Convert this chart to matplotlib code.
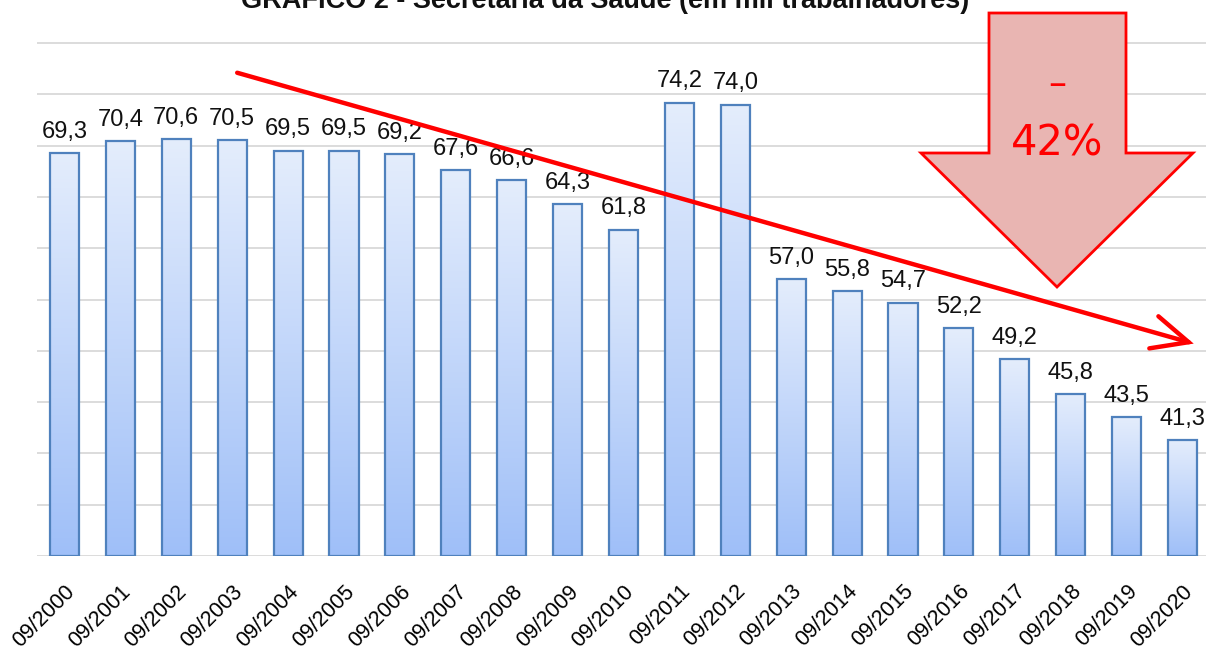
import numpy as np
import matplotlib
matplotlib.use('Agg')
import matplotlib.pyplot as plt
from matplotlib.patches import Polygon, FancyArrowPatch
from matplotlib.transforms import Affine2D
from matplotlib.colors import LinearSegmentedColormap

periodos = ['09/2000', '09/2001', '09/2002', '09/2003', '09/2004', '09/2005',
            '09/2006', '09/2007', '09/2008', '09/2009', '09/2010', '09/2011',
            '09/2012', '09/2013', '09/2014', '09/2015', '09/2016', '09/2017',
            '09/2018', '09/2019', '09/2020']
trabalhadores = [69.3, 70.4, 70.6, 70.5, 69.5, 69.5, 69.2, 67.6, 66.6, 64.3, 61.8,
                 74.2, 74.0, 57.0, 55.8, 54.7, 52.2, 49.2, 45.8, 43.5, 41.3]
rotulos = [f'{v:.1f}'.replace('.', ',') for v in trabalhadores]

plt.rcParams['font.family'] = ['Liberation Sans', 'DejaVu Sans']

W, H = 1206, 653
fig = plt.figure(figsize=(W / 100, H / 100), dpi=100)
ax = fig.add_axes([36.5 / W, 1 - 556 / H, (1210.5 - 36.5) / W, (556 - 20) / H])

x = np.arange(len(trabalhadores))
ax.set_xlim(-0.5, len(trabalhadores) - 0.5)
ax.set_ylim(30, 30 + (556 - 20) / 10.26)

for g in range(30, 85, 5):
    ax.axhline(g, color='#d9d9d9', lw=1.3, zorder=0)

grad = LinearSegmentedColormap.from_list('azul', ['#9fbff8', '#e4edfc'])
largura = 0.52
barras = ax.bar(x, np.array(trabalhadores) - 30, bottom=30, width=largura,
                facecolor='none', edgecolor='#4f81bd', lw=1.6, zorder=3)
for b in barras:
    x0, y0 = b.get_x(), b.get_y()
    w, h = b.get_width(), b.get_height()
    img = ax.imshow(np.linspace(0, 1, 256).reshape(-1, 1), cmap=grad,
                    extent=[x0, x0 + w, y0, y0 + h], origin='lower',
                    aspect='auto', zorder=2)
    img.set_clip_path(b)

for xi, v, r in zip(x, trabalhadores, rotulos):
    ax.annotate(r, (xi, v), xytext=(0, 11), textcoords='offset points',
                ha='center', va='baseline', fontsize=17, color='#111111', zorder=4)

ax.set_xticks(x)
ax.set_xticklabels(periodos, rotation=45, ha='right', va='top',
                   rotation_mode='anchor', fontsize=15.5)
ax.tick_params(axis='x', length=0, pad=18)
ax.tick_params(axis='y', left=False, labelleft=False)
for s in ax.spines.values():
    s.set_visible(False)
ax.autoscale(False)

# linha de tendência
seta = FancyArrowPatch((3.09, 77.1), (20.2, 50.7),
                       arrowstyle='->,head_length=1.3,head_width=0.6', mutation_scale=20,
                       color='#ff0000', lw=3.2, zorder=5, clip_on=False,
                       shrinkA=0, shrinkB=0, joinstyle='miter')
ax.add_patch(seta)

# seta grande (coordenadas em pixels da figura)
px = Affine2D().scale(1 / W, -1 / H).translate(0, 1) + fig.transFigure
pts = [(989, 13), (1126, 13), (1126, 153), (1193, 153), (1057, 287),
       (921, 153), (989, 153)]
fig.patches.append(Polygon(pts, closed=True, facecolor='#e9b5b2', edgecolor='#ff0000',
                           lw=2, transform=px, zorder=6))
fig.text(1057, 85, '–', transform=px, ha='center', va='center', color='#ff0000',
         fontsize=26, family='DejaVu Sans', zorder=7)
fig.text(1057, 143, '42%', transform=px, ha='center', va='center', color='#ff0000',
         fontsize=30, family='DejaVu Sans', zorder=7)

fig.text(605, 8, 'GRÁFICO 2 - Secretaria da Saúde (em mil trabalhadores)', transform=px,
         ha='center', va='baseline', fontsize=19.5, fontweight='bold', color='#111111')

fig.savefig('out.png', dpi=100)
